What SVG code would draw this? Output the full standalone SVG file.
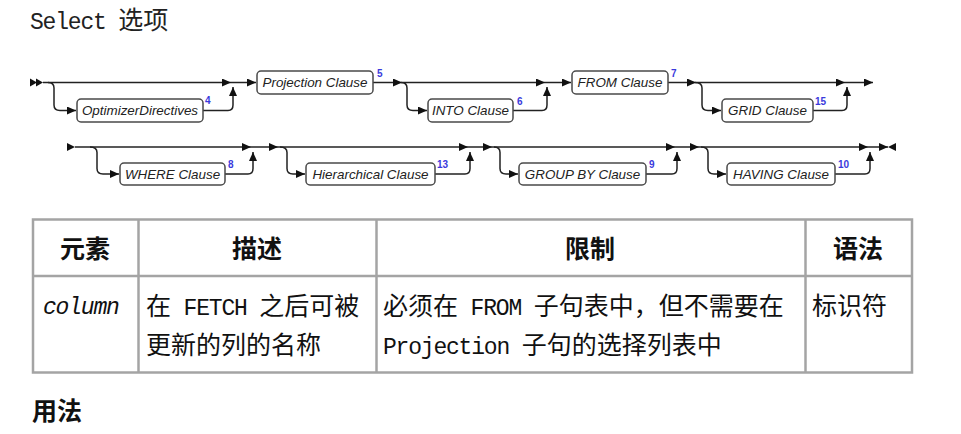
<svg xmlns="http://www.w3.org/2000/svg" width="961" height="434" viewBox="0 0 961 434">
<style>
.bg{fill:#fff}
.box{fill:#fff;stroke:#4a4a4a;stroke-width:1.5}
.bt{font-family:"Liberation Sans",Arial,sans-serif;font-style:italic;font-size:13.4px;fill:#222;text-anchor:middle}
.sup{font-family:"Liberation Sans",Arial,sans-serif;font-size:10px;font-weight:bold;fill:#3a3adc}
.ln{fill:none;stroke:#222;stroke-width:1.5}
.ar{fill:#111}
.tl{stroke:#a4a4a4;stroke-width:2.5;fill:none}
.t{font-family:"Liberation Mono","Noto Sans CJK SC",monospace;fill:#111;white-space:pre}
.cj{font-family:"Noto Sans CJK SC",sans-serif;font-size:25px}
.la{font-family:"Liberation Mono",monospace;font-size:23px;letter-spacing:-1.2px}
.hd{font-family:"Noto Sans CJK SC",sans-serif;font-size:25px;font-weight:bold;fill:#111;text-anchor:middle}
</style>
<defs>
<marker id="a" viewBox="0 0 9 8" refX="9" refY="4" markerWidth="9" markerHeight="8" markerUnits="userSpaceOnUse" orient="auto">
<path d="M0,0 L9,4 L0,8 z" class="ar"/>
</marker>
</defs>
<rect class="bg" x="0" y="0" width="961" height="434"/>

<text class="t" x="30" y="29"><tspan class="la" fill="#222">Select </tspan><tspan class="cj" fill="#222">选项</tspan></text>

<g id="connectors">
<!-- row 1 -->
<polygon class="ar" points="30,78.5 37,82.5 30,86.5"/>
<polygon class="ar" points="36,78.5 43,82.5 36,86.5"/>
<path class="ln" d="M43 82.5 L231 82.5" marker-end="url(#a)"/>
<path class="ln" d="M48 82.5 Q54 82.5 54 88 L54 105 Q54 110.5 60 110.5 L76 110.5" marker-end="url(#a)"/>
<path class="ln" d="M203 110.5 L228 110.5 Q233 110.5 233 105 L233 87" marker-end="url(#a)"/>
<path class="ln" d="M231 82.5 L256 82.5" marker-end="url(#a)"/>

<path class="ln" d="M373 82.5 L402 82.5" marker-end="url(#a)"/>
<path class="ln" d="M402 82.5 L545 82.5" marker-end="url(#a)"/>
<path class="ln" d="M401 82.5 Q407 82.5 407 88 L407 105 Q407 110.5 413 110.5 L427 110.5" marker-end="url(#a)"/>
<path class="ln" d="M513 110.5 L542 110.5 Q547 110.5 547 105 L547 87" marker-end="url(#a)"/>
<path class="ln" d="M545 82.5 L571 82.5" marker-end="url(#a)"/>

<path class="ln" d="M668 82.5 L696 82.5" marker-end="url(#a)"/>
<path class="ln" d="M696 82.5 L845 82.5" marker-end="url(#a)"/>
<path class="ln" d="M695 82.5 Q702 82.5 702 88 L702 105 Q702 110.5 708 110.5 L721 110.5" marker-end="url(#a)"/>
<path class="ln" d="M813 110.5 L842 110.5 Q847 110.5 847 105 L847 87" marker-end="url(#a)"/>
<path class="ln" d="M845 82.5 L873 82.5" marker-end="url(#a)"/>

<!-- row 2 -->
<polygon class="ar" points="67,143 75,147 67,151"/>
<path class="ln" d="M75 147 L251 147" marker-end="url(#a)"/>
<path class="ln" d="M90 147 Q97 147 97 152.5 L97 168.5 Q97 174 103 174 L119 174" marker-end="url(#a)"/>
<path class="ln" d="M225 174 L248 174 Q253 174 253 168.5 L253 152" marker-end="url(#a)"/>
<path class="ln" d="M251 147 L278 147" marker-end="url(#a)"/>
<path class="ln" d="M278 147 L468 147" marker-end="url(#a)"/>
<path class="ln" d="M280 147 Q287 147 287 152.5 L287 168.5 Q287 174 293 174 L305 174" marker-end="url(#a)"/>
<path class="ln" d="M435 174 L465 174 Q470 174 470 168.5 L470 152" marker-end="url(#a)"/>
<path class="ln" d="M468 147 L492 147" marker-end="url(#a)"/>
<path class="ln" d="M492 147 L675 147" marker-end="url(#a)"/>
<path class="ln" d="M494 147 Q500 147 500 152.5 L500 168.5 Q500 174 506 174 L518 174" marker-end="url(#a)"/>
<path class="ln" d="M646 174 L672 174 Q677 174 677 168.5 L677 152" marker-end="url(#a)"/>
<path class="ln" d="M675 147 L699 147" marker-end="url(#a)"/>
<path class="ln" d="M699 147 L868 147" marker-end="url(#a)"/>
<path class="ln" d="M701 147 Q708 147 708 152.5 L708 168.5 Q708 174 714 174 L726 174" marker-end="url(#a)"/>
<path class="ln" d="M835 174 L865 174 Q870 174 870 168.5 L870 152" marker-end="url(#a)"/>
<path class="ln" d="M868 147 L888 147" marker-end="url(#a)"/>
<polygon class="ar" points="896,143 888,147 896,151"/>
</g>

<g id="n-optimizer"><rect class="box" x="77" y="99" width="126" height="23" rx="4"/><text class="bt" x="140" y="115">OptimizerDirectives</text><text class="sup" x="205" y="104">4</text></g>
<g id="n-projection"><rect class="box" x="257" y="71" width="116" height="23" rx="4"/><text class="bt" x="315" y="87">Projection Clause</text><text class="sup" x="377" y="77">5</text></g>
<g id="n-into"><rect class="box" x="428" y="99" width="85" height="23" rx="4"/><text class="bt" x="470.5" y="115">INTO Clause</text><text class="sup" x="517" y="105">6</text></g>
<g id="n-from"><rect class="box" x="572" y="71" width="96" height="23" rx="4"/><text class="bt" x="620" y="87">FROM Clause</text><text class="sup" x="671" y="77">7</text></g>
<g id="n-grid"><rect class="box" x="722" y="99" width="91" height="23" rx="4"/><text class="bt" x="767.5" y="115">GRID Clause</text><text class="sup" x="815" y="105">15</text></g>
<g id="n-where"><rect class="box" x="120" y="163" width="105" height="22" rx="4"/><text class="bt" x="172.5" y="178.5">WHERE Clause</text><text class="sup" x="228" y="168">8</text></g>
<g id="n-hier"><rect class="box" x="306" y="163" width="129" height="22" rx="4"/><text class="bt" x="370.5" y="178.5">Hierarchical Clause</text><text class="sup" x="437" y="168">13</text></g>
<g id="n-groupby"><rect class="box" x="519" y="163" width="127" height="22" rx="4"/><text class="bt" x="582.5" y="178.5">GROUP BY Clause</text><text class="sup" x="649" y="168">9</text></g>
<g id="n-having"><rect class="box" x="727" y="163" width="108" height="22" rx="4"/><text class="bt" x="781" y="178.5">HAVING Clause</text><text class="sup" x="838" y="168">10</text></g>

<g id="table">
<rect class="tl" x="33" y="219.5" width="879" height="153"/>
<line class="tl" x1="33" y1="276" x2="912" y2="276"/>
<line class="tl" x1="138.5" y1="219.5" x2="138.5" y2="372.5"/>
<line class="tl" x1="376.5" y1="219.5" x2="376.5" y2="372.5"/>
<line class="tl" x1="805.5" y1="219.5" x2="805.5" y2="372.5"/>
<text class="hd" x="85" y="258">元素</text>
<text class="hd" x="257" y="258">描述</text>
<text class="hd" x="590" y="258">限制</text>
<text class="hd" x="858" y="258">语法</text>
<text class="t" x="43" y="314"><tspan class="la" font-style="italic">column</tspan></text>
<text class="t" x="146" y="315"><tspan class="cj">在</tspan><tspan class="la"> FETCH </tspan><tspan class="cj">之后可被</tspan></text>
<text class="t" x="146" y="354"><tspan class="cj">更新的列的名称</tspan></text>
<text class="t" x="383" y="315"><tspan class="cj">必须在</tspan><tspan class="la"> FROM </tspan><tspan class="cj">子句表中，但不需要在</tspan></text>
<text class="t" x="383" y="354"><tspan class="la">Projection </tspan><tspan class="cj">子句的选择列表中</tspan></text>
<text class="t" x="812" y="315"><tspan class="cj">标识符</tspan></text>
</g>
<text class="hd" x="32" y="420" style="text-anchor:start">用法</text>
</svg>
